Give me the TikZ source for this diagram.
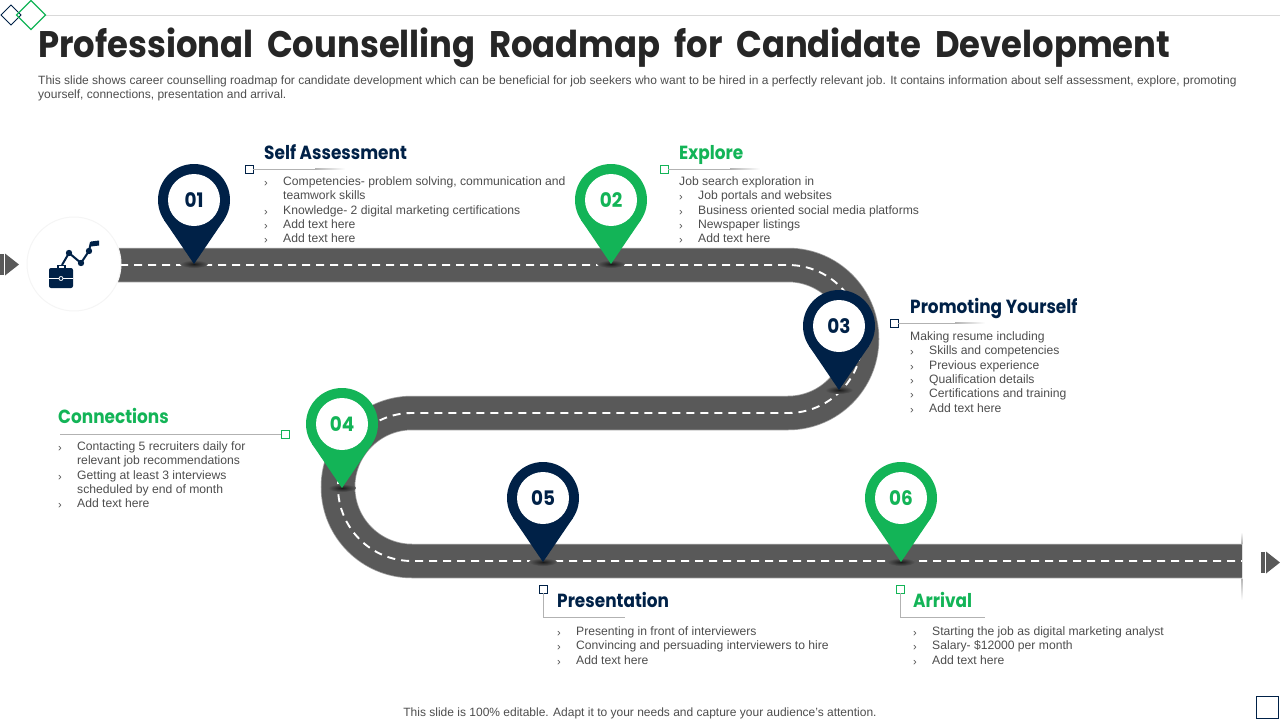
\documentclass[tikz,border=0pt]{standalone}
\usepackage{fontspec}
\setmainfont{Liberation Sans}
\newfontfamily\headfont[FakeStretch=0.89]{Poppins}
\newfontfamily\numfont[FakeStretch=0.92]{Poppins}
\newfontfamily\titlefont[FakeStretch=0.915,WordSpace=1.9]{Poppins}
\definecolor{navy}{HTML}{002147}
\definecolor{grn}{HTML}{13B457}
\definecolor{roadc}{HTML}{595959}
\definecolor{bodyc}{HTML}{4D4D4D}
\definecolor{titlec}{HTML}{262626}
\newcommand{\bl}{\makebox[19pt][l]{\raisebox{-1pt}{\fontsize{11}{11}\selectfont ›}}}
\newcommand{\nb}{\hspace*{19pt}}
\tikzset{
  x=1pt,y=-1pt,
  body/.style={anchor=north west,inner sep=0pt,align=left,text=bodyc,font=\fontsize{12.15}{14.35}\selectfont},
  head/.style={anchor=base west,inner sep=0pt,font=\headfont\bfseries\fontsize{19}{22}\selectfont},
  sq/.style={draw=#1,fill=white,line width=1pt,minimum size=8pt,inner sep=0pt,outer sep=0pt},
  leader/.style={draw=#1,line width=.8pt},
  leadfade/.style={left color=black!30,right color=white,draw=none},
  roadedge/.style={line width=34.5pt,draw=roadc!60!white},
  roadbase/.style={line width=33pt,draw=roadc},
  centerdash/.style={draw=white,line width=1.9pt,dash pattern=on 8pt off 6pt},
  pinhole/.style={circle,fill=white,minimum size=52pt,inner sep=0pt,font=\numfont\bfseries\fontsize{20}{22}\selectfont},
  tipshade/.style={inner color=black!70!roadc,outer color=roadc},
}
\newcommand{\pinmark}[5]{% name, x, y, color, number
  \shade[tipshade] (#2,#3+64) ellipse [x radius=14pt,y radius=4pt];
  \fill[#4] (#2,#3+64) -- (#2+29.8,#3+20.2) -- (#2-29.8,#3+20.2) -- cycle;
  \fill[#4] (#2,#3) circle [radius=36pt];
  \node[pinhole,text=#4] (#1) at (#2,#3) {#5};
}
\begin{document}
\begin{tikzpicture}
\useasboundingbox (0,0) rectangle (1280,720);
% top decoration
\coordinate (tl) at (45,15); \coordinate (tr) at (1280,15);
\draw[draw=black!15,line width=.8pt] (tl) -- (tr);
\draw[navy,line width=1pt] (11,5) -- (21,15) -- (11,25) -- (1,15) -- cycle;
\draw[grn,line width=1.2pt] (31,0.5) -- (45.5,15) -- (31,29.5) -- (16.5,15) -- cycle;
% title
\node[anchor=base west,inner sep=0pt,text=titlec,font=\titlefont\bfseries\fontsize{37}{40}\selectfont] (title) at (38,57) {Professional Counselling Roadmap for Candidate Development};
\node[body,text=bodyc,font=\fontsize{12}{14.35}\selectfont] (sub) at (38,75.5) {This slide shows career counselling roadmap for candidate development which can be beneficial for job seekers who want to be hired in a perfectly relevant job. It contains information about self assessment, explore, promoting\\yourself, connections, presentation and arrival.};
% road
\foreach \st in {roadedge,roadbase}{
\draw[\st] (118,265) -- (788,265) arc[start angle=90,end angle=-90,radius=74pt] -- (412,413) arc[start angle=90,end angle=270,radius=74pt] -- (1242,561);
}
\draw[centerdash] (120,265) -- (788,265) arc[start angle=90,end angle=-90,radius=74pt] -- (412,413) arc[start angle=90,end angle=270,radius=74pt] -- (1242,561);
% road end line
\shade[top color=white,bottom color=black!30] (1241.6,532) rectangle (1242.4,544);
\shade[top color=black!30,bottom color=white] (1241.6,578) rectangle (1242.4,600);
% start/end arrows
\fill[roadc] (0,254) rectangle (4,275);
\fill[roadc] (5,253.5) -- (19,264.5) -- (5,275.5) -- cycle;
\fill[roadc] (1261,552) rectangle (1265,573);
\fill[roadc] (1266,551.5) -- (1280,562.5) -- (1266,573.5) -- cycle;
% icon
\node[circle,fill=white,draw=black!4,line width=1pt,minimum size=94pt,inner sep=0pt] (icon) at (74,264) {};
\draw[navy,line width=2pt] (62,265) -- (69,253) -- (81,263) -- (89,251) -- (91,242);
\fill[navy] (69,253) circle [radius=3.2pt] (81,263) circle [radius=3.2pt] (89,251) circle [radius=3.2pt];
\fill[navy] (91,241.5) -- (99,240.5) -- (99,245.5) -- (91,246.5) -- cycle;
\draw[navy,line width=1.6pt] (58,268.5) -- (58,265.5) -- (65,265.5) -- (65,268.5);
\fill[navy,rounded corners=2pt] (49,268) rectangle (73,288);
\draw[white,line width=.8pt] (49,278) -- (73,278);
\draw[white,fill=navy,line width=.8pt] (61,278.5) circle [radius=2pt];
% pins
\pinmark{p1}{194}{200}{navy}{01}
\pinmark{p2}{611}{200}{grn}{02}
\pinmark{p3}{839}{326}{navy}{03}
\pinmark{p4}{342}{424}{grn}{04}
\pinmark{p5}{543}{498}{navy}{05}
\pinmark{p6}{901}{498}{grn}{06}
% leaders
\coordinate (e1) at (315,169);
\coordinate (e2) at (730,169);
\coordinate (e3) at (955,323);
\shade[leadfade] (315,168.6) rectangle (345,169.4);
\shade[leadfade] (730,168.6) rectangle (760,169.4);
\shade[leadfade] (955,322.6) rectangle (985,323.4);
\node[sq=navy] (s1) at (249,169) {};
\draw[leader=black!30] (s1) -- (e1);
\node[sq=grn] (s2) at (664,169) {};
\draw[leader=black!30] (s2) -- (e2);
\node[sq=navy] (s3) at (894,323) {};
\draw[leader=black!30] (s3) -- (e3);
\node[sq=grn] (s4) at (285,434) {};
\coordinate (e4) at (60,434);
\draw[leader=black!30] (s4) -- (e4);
\node[sq=navy] (s5) at (543,589) {};
\coordinate (c5) at (543,617); \coordinate (e5) at (625,617);
\draw[leader=black!30] (s5) -- (c5) -- (e5);
\node[sq=grn] (s6) at (900,589) {};
\coordinate (c6) at (900,617); \coordinate (e6) at (985,617);
\draw[leader=black!30] (s6) -- (c6) -- (e6);
% headings
\node[head,text=navy] (h1) at (264,159) {Self Assessment};
\node[head,text=grn] (h2) at (679,159) {Explore};
\node[head,text=navy] (h3) at (910,313) {Promoting Yourself};
\node[head,text=grn] (h4) at (58,423) {Connections};
\node[head,text=navy] (h5) at (557,607) {Presentation};
\node[head,text=grn] (h6) at (913,607) {Arrival};
% bodies
\node[body] (t1) at (264,176.5) {\bl Competencies- problem solving, communication and\\\nb teamwork skills\\\bl Knowledge- 2 digital marketing certifications\\\bl Add text here\\\bl Add text here};
\node[body] (t2) at (679,176.5) {Job search exploration in\\\bl Job portals and websites\\\bl Business oriented social media platforms\\\bl Newspaper listings\\\bl Add text here};
\node[body] (t3) at (910,331.5) {Making resume including\\\bl Skills and competencies\\\bl Previous experience\\\bl Qualification details\\\bl Certifications and training\\\bl Add text here};
\node[body] (t4) at (58,441.5) {\bl Contacting 5 recruiters daily for\\\nb relevant job recommendations\\\bl Getting at least 3 interviews\\\nb scheduled by end of month\\\bl Add text here};
\node[body] (t5) at (557,626.5) {\bl Presenting in front of interviewers\\\bl Convincing and persuading interviewers to hire\\\bl Add text here};
\node[body] (t6) at (913,626.5) {\bl Starting the job as digital marketing analyst\\\bl Salary- \$12000 per month\\\bl Add text here};
% footer
\node[anchor=center,inner sep=0pt,text=bodyc,font=\fontsize{12}{14}\selectfont] (foot) at (640,713) {This slide is 100\% editable. Adapt it to your needs and capture your audience's attention.};
\node[draw=navy,line width=.8pt,fill=white,minimum size=22pt,inner sep=0pt] (corner) at (1267.5,707) {};
\end{tikzpicture}
\end{document}
